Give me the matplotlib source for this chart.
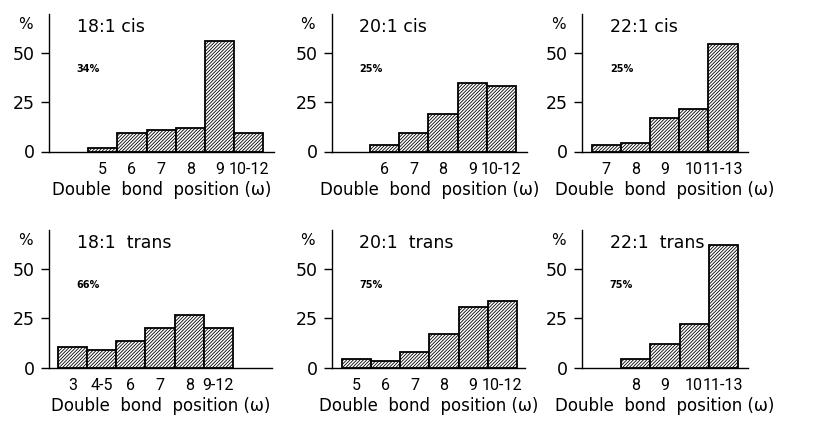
import numpy as np
import matplotlib
matplotlib.use("Agg")
import matplotlib.pyplot as plt

# isomer distribution of monoenoic fatty acids, % per double bond position
titles = ["18:1 cis", "20:1 cis", "22:1 cis",
          "18:1  trans", "20:1  trans", "22:1  trans"]
shares = ["34%", "25%", "25%", "66%", "75%", "75%"]

pos_18c = ["5", "6", "7", "8", "9", "10-12"]
val_18c = [2, 9.5, 11, 12, 56, 9.5]
pos_20c = ["6", "7", "8", "9", "10-12"]
val_20c = [3.5, 9.5, 19, 35, 33]
pos_22c = ["7", "8", "9", "10", "11-13"]
val_22c = [3.5, 4.5, 17, 21.5, 54.5]
pos_18t = ["3", "4-5", "6", "7", "8", "9-12"]
val_18t = [10.5, 9, 13.5, 20, 27, 20]
pos_20t = ["5", "6", "7", "8", "9", "10-12"]
val_20t = [4.5, 3.5, 8, 17, 31, 34]
pos_22t = ["8", "9", "10", "11-13"]
val_22t = [4.5, 12, 22, 62.5]

positions = [pos_18c, pos_20c, pos_22c, pos_18t, pos_20t, pos_22t]
values = [val_18c, val_20c, val_22c, val_18t, val_20t, val_22t]

W, H = 827, 421
plt.rcParams["hatch.linewidth"] = 0.6
fig = plt.figure(figsize=(W / 100, H / 100), dpi=100)

# panel frames in pixels: y axis x, baseline right end, baseline y
col_x = [49, 331.5, 582]
right_end = [[274, 527, 748], [272, 525, 748]]
base_y = [151.5, 367.7]
ax_h = 138
px_per_bar = 29.2
lead = [1.34, 1.32, 0.33, 0.30, 0.35, 1.34]  # gap before first bar, in bar widths
narrow = ["Roboto", "DejaVu Sans"]

for k in range(6):
    r, c = divmod(k, 3)
    left = col_x[c]
    width = right_end[r][c] - left
    ax = fig.add_axes([left / W, (H - base_y[r]) / H, width / W, ax_h / H])

    x = np.arange(len(values[k]))
    ax.bar(x, values[k], width=1.0, facecolor="white", edgecolor="black",
           linewidth=1.3, hatch="//////////")

    x0 = -0.5 - lead[k]
    ax.set_xlim(x0, x0 + width / px_per_bar)
    ax.set_ylim(0, ax_h / 1.97)

    ax.spines["top"].set_visible(False)
    ax.spines["right"].set_visible(False)
    ax.spines["left"].set_linewidth(1.0)
    ax.spines["bottom"].set_linewidth(1.0)

    ax.set_yticks([0, 25, 50])
    ax.tick_params(axis="y", length=6, width=1.0, labelsize=12.5, pad=4)
    ax.set_xticks(x)
    ax.set_xticklabels(positions[k], fontsize=11.5, family=narrow)
    ax.tick_params(axis="x", length=0, pad=7.5)

    ax.set_xlabel("Double  bond  position (ω)", fontsize=12, labelpad=3)

    ax.annotate("%", xy=(0, 64.7), xycoords=("axes fraction", "data"),
                xytext=(-17, 0), textcoords="offset points",
                ha="center", va="center", fontsize=11, annotation_clip=False)
    ax.annotate(titles[k], xy=(0, 63.3), xycoords=("axes fraction", "data"),
                xytext=(20, 0), textcoords="offset points",
                ha="left", va="center", fontsize=12.5, annotation_clip=False)
    ax.annotate(shares[k], xy=(0, 42), xycoords=("axes fraction", "data"),
                xytext=(20, 0), textcoords="offset points",
                ha="left", va="center", fontsize=7, fontweight="bold")

fig.savefig("out.png", dpi=100)
